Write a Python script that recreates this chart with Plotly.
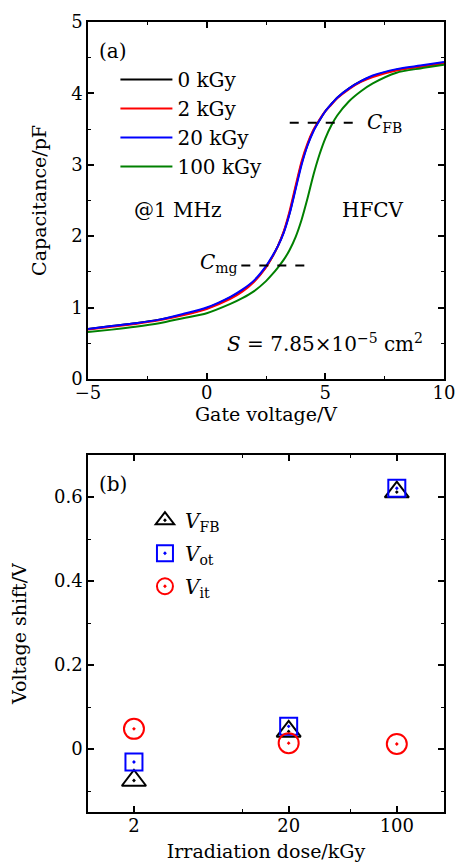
import plotly.graph_objects as go
from plotly.subplots import make_subplots

# ---- Panel (a): C-V curves ----
gate_v = [-5, -4, -3, -2, -1, 0, 1, 1.5, 2, 2.5, 2.75, 3, 3.25, 3.5, 3.75, 4, 4.25, 4.5, 4.75, 5, 5.25, 5.5, 6, 6.5, 7, 8, 9, 10]
cap_0kgy = [0.70, 0.74, 0.78, 0.83, 0.90, 0.99, 1.14, 1.24, 1.37, 1.57, 1.70, 1.86, 2.06, 2.33, 2.68, 3.02, 3.28, 3.48, 3.62, 3.75, 3.85, 3.94, 4.07, 4.17, 4.24, 4.33, 4.38, 4.43]
cap_2kgy = [0.69, 0.73, 0.77, 0.82, 0.89, 0.98, 1.12, 1.22, 1.36, 1.56, 1.70, 1.86, 2.07, 2.36, 2.71, 3.05, 3.30, 3.49, 3.63, 3.75, 3.84, 3.93, 4.06, 4.16, 4.23, 4.32, 4.37, 4.42]
cap_20kgy = [0.70, 0.74, 0.78, 0.83, 0.91, 1.00, 1.15, 1.25, 1.38, 1.58, 1.71, 1.86, 2.05, 2.32, 2.66, 3.00, 3.27, 3.47, 3.62, 3.75, 3.85, 3.94, 4.07, 4.17, 4.25, 4.34, 4.39, 4.44]
cap_100kgy = [0.655, 0.69, 0.73, 0.78, 0.85, 0.92, 1.05, 1.13, 1.23, 1.37, 1.46, 1.56, 1.67, 1.81, 1.99, 2.23, 2.53, 2.86, 3.14, 3.37, 3.55, 3.69, 3.89, 4.03, 4.14, 4.29, 4.35, 4.40]
series_names = ["0 kGy", "2 kGy", "20 kGy", "100 kGy"]
series_colors = ["#000000", "#ff0000", "#0000ff", "#008000"]

cfb_x = [3.5, 6.45]
cfb_y = [3.59, 3.59]
cmg_x = [1.46, 4.4]
cmg_y = [1.587, 1.587]

# ---- Panel (b): voltage shifts ----
dose = [2, 20, 100]
v_fb = [-0.075, 0.042, 0.612]
v_ot = [-0.031, 0.054, 0.621]
v_it = [0.048, 0.014, 0.012]

FONT = "DejaVu Serif"

fig = make_subplots(rows=2, cols=1, vertical_spacing=0.0965)

curves = [cap_0kgy, cap_2kgy, cap_20kgy, cap_100kgy]
for name, col, ys in zip(series_names, series_colors, curves):
    fig.add_trace(go.Scatter(x=gate_v, y=ys, mode="lines", name=name,
                             line=dict(color=col, width=2, shape="spline", smoothing=0.7),
                             legend="legend"), row=1, col=1)

for xs, ys in [(cfb_x, cfb_y), (cmg_x, cmg_y)]:
    fig.add_trace(go.Scatter(x=xs, y=ys, mode="lines", showlegend=False,
                             line=dict(color="black", width=2, dash="dash")), row=1, col=1)

fig.add_trace(go.Scatter(x=dose, y=v_fb, mode="markers", name="<i>V</i><sub>FB</sub>",
                         legendgroup="fb",
                         marker=dict(symbol="triangle-up-open-dot", size=21, color="black",
                                     line=dict(width=2)), legend="legend2"), row=2, col=1)
fig.add_trace(go.Scatter(x=dose, y=v_ot, mode="markers", name="<i>V</i><sub>ot</sub>",
                         legendgroup="ot",
                         marker=dict(symbol="square-open-dot", size=17, color="#0000ff",
                                     line=dict(width=2)), legend="legend2"), row=2, col=1)
fig.add_trace(go.Scatter(x=dose, y=v_it, mode="markers", name="<i>V</i><sub>it</sub>",
                         legendgroup="it",
                         marker=dict(symbol="circle-open-dot", size=20, color="#ff0000",
                                     line=dict(width=2)), legend="legend2"), row=2, col=1)

axis_common = dict(showline=True, linecolor="black", linewidth=1.5, mirror="ticks",
                   ticks="inside", ticklen=6, tickwidth=1.5, tickcolor="black",
                   showgrid=False, zeroline=False, automargin=False,
                   tickfont=dict(family=FONT, size=18, color="black"),
                   title_font=dict(family=FONT, size=19, color="black"))

fig.update_xaxes(**axis_common, range=[-5, 10], tickvals=[-5, 0, 5, 10], ticklabelstandoff=-3,
                 minor=dict(ticks="inside", ticklen=3, dtick=2.5, tickcolor="black", tickwidth=1.2),
                 title_text="Gate voltage/V", title_standoff=2, row=1, col=1)
fig.update_yaxes(**axis_common, range=[0, 5], tickvals=[0, 1, 2, 3, 4, 5],
                 minor=dict(ticks="inside", ticklen=3, dtick=0.5, tickcolor="black", tickwidth=1.2),
                 title_text="Capacitance/pF", title_standoff=20, row=1, col=1)
fig.update_xaxes(**axis_common, type="log", range=[0.004, 2.305], tickvals=[2, 20, 100],
                 ticktext=["2", "20", "100"], ticklabelstandoff=-3,
                 minor=dict(ticks="inside", ticklen=3, tickvals=[10, 50], tickcolor="black", tickwidth=1.2),
                 title_text="Irradiation dose/kGy", title_standoff=9, row=2, col=1)
fig.update_yaxes(**axis_common, range=[-0.15, 0.7], tickvals=[0, 0.2, 0.4, 0.6],
                 ticktext=["0", "0.2", "0.4", "0.6"],
                 minor=dict(ticks="inside", ticklen=3, dtick=0.1, tickcolor="black", tickwidth=1.2),
                 title_text="Voltage shift/V", title_standoff=22, row=2, col=1)

fig.update_layout(
    width=457, height=865,
    margin=dict(l=88, r=13, t=22, b=53),
    paper_bgcolor="white", plot_bgcolor="white",
    font=dict(family=FONT, size=20, color="black"),
    legend=dict(x=0.077, y=0.952, xanchor="left", yanchor="top", bgcolor="rgba(0,0,0,0)",
                font=dict(family=FONT, size=20), itemwidth=52, tracegroupgap=0),
    legend2=dict(x=0.16, y=0.394, xanchor="left", yanchor="top", bgcolor="rgba(0,0,0,0)",
                 font=dict(family=FONT, size=20), itemsizing="trace", tracegroupgap=4),
)

annots = [
    dict(text="(a)", x=0.025, y=0.92, xref="x domain", yref="y domain", xanchor="left", yanchor="middle"),
    dict(text="@1 MHz", x=-1.22, y=2.36, xref="x", yref="y", xanchor="center", yanchor="middle"),
    dict(text="HFCV", x=7.02, y=2.36, xref="x", yref="y", xanchor="center", yanchor="middle"),
    dict(text="<i>C</i><sub>FB</sub>", x=6.68, y=3.59, xref="x", yref="y", xanchor="left", yanchor="middle"),
    dict(text="<i>C</i><sub>mg</sub>", x=1.40, y=1.62, xref="x", yref="y", xanchor="right", yanchor="middle"),
    dict(text="<i>S</i> = 7.85×10<sup>−5</sup> cm<sup>2</sup>", x=4.98, y=0.5, xref="x", yref="y",
         xanchor="center", yanchor="middle"),
    dict(text="(b)", x=0.025, y=0.92, xref="x2 domain", yref="y2 domain", xanchor="left", yanchor="middle"),
]
for a in annots:
    a.update(showarrow=False, font=dict(family=FONT, size=20, color="black"))
    fig.add_annotation(**a)

fig.write_html("out.html", config={"displayModeBar": False},
               post_script="document.body.style.margin='0px';")
